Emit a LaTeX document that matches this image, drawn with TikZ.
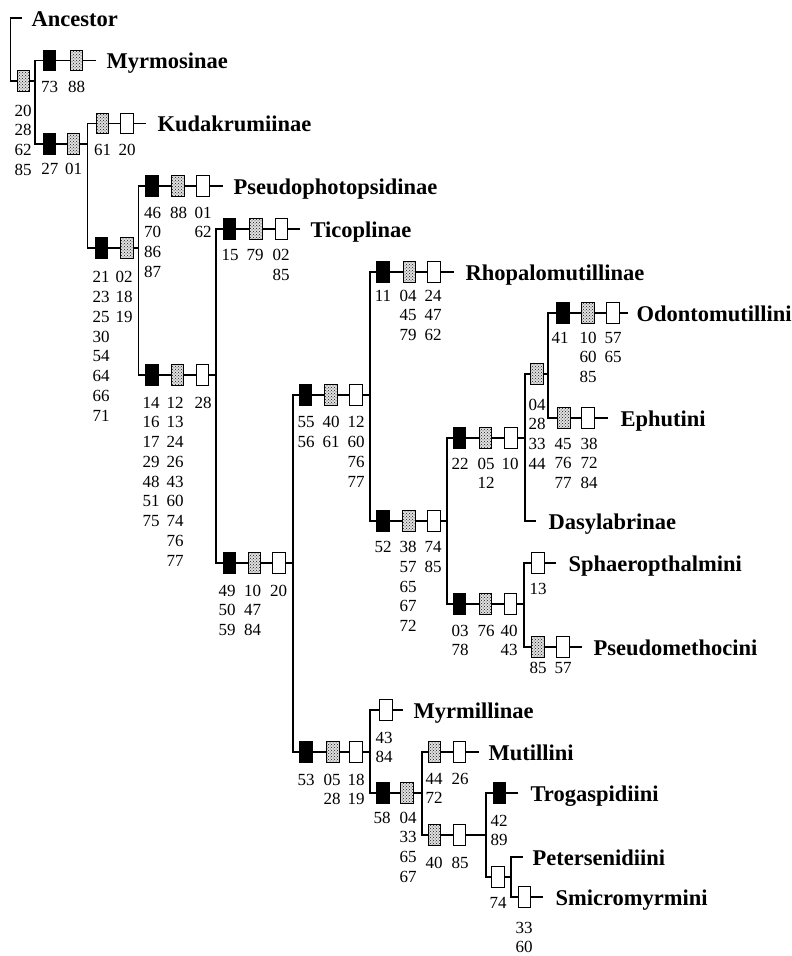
\documentclass[tikz,border=0pt]{standalone}
\usepackage{fontspec}
\setmainfont{Liberation Serif}
\usetikzlibrary{patterns}

\begin{document}
\begin{tikzpicture}[x=1pt, y=-1pt, line width=1.2pt, line cap=rect,
  box/.style={draw, line width=0.9pt, minimum width=12.5pt, minimum height=20.5pt, inner sep=0pt},
  apo/.style={box, fill=black},
  hom/.style={box, preaction={fill=black!12}, pattern=crosshatch dots, pattern color=black!90},
  rev/.style={box, fill=white},
  taxon/.style={anchor=base west, inner sep=0pt, yshift=-8pt, font=\fontsize{22.5}{27}\selectfont\bfseries},
  chars/.style={anchor=north, inner sep=0pt, yshift=5.7pt, align=center, font=\fontsize{17}{19.75}\selectfont}]
  \useasboundingbox (0,0) rectangle (792,956);

  % ancestor and root
  \coordinate (anc-e) at (21,18);
  \coordinate (anc-c) at (10.5,18);
  \coordinate (anc-s) at (10.5,81);
  \node[hom] (anc-1) at (23.3,81) {};
  \coordinate (r0) at (35,81);
  \node[taxon] (anc) at (31,18) {Ancestor};
  \node[chars] (anc-n) at (23,110) {20\\28\\62\\85};
  \draw (anc-e) -- (anc-c) -- (anc-s) -- (anc-1) -- (r0);

  % Myrmosinae
  \coordinate (myr-s) at (35,60.5);
  \node[apo] (myr-1) at (49.5,60.5) {};
  \node[hom] (myr-2) at (76.5,60.5) {};
  \coordinate (myr-e) at (95,60.5);
  \node[taxon] (myr) at (106,60.5) {Myrmosinae};
  \node[chars] (myr-a) at (49.5,86) {73};
  \node[chars] (myr-b) at (76.5,86) {88};
  \draw (myr-s) -- (myr-1) -- (myr-2) -- (myr-e);

  \coordinate (n1-s) at (35,144);
  \node[apo] (n1-1) at (49.5,144) {};
  \node[hom] (n1-2) at (73.3,144) {};
  \coordinate (n1-e) at (87.5,144);
  \node[chars] (n1-a) at (50,168) {27};
  \node[chars] (n1-b) at (73.5,168) {01};
  \draw (n1-s) -- (n1-1) -- (n1-2) -- (n1-e);

  % Kudakrumiinae
  \coordinate (kud-s) at (87.5,123.5);
  \node[hom] (kud-1) at (102.5,123.5) {};
  \node[rev] (kud-2) at (126.7,123.5) {};
  \coordinate (kud-e) at (145.7,123.5);
  \node[taxon] (kud) at (157,123.5) {Kudakrumiinae};
  \node[chars] (kud-a) at (102.5,149) {61};
  \node[chars] (kud-b) at (127,149) {20};
  \draw (kud-s) -- (kud-1) -- (kud-2) -- (kud-e);

  \coordinate (n2-s) at (87.5,248);
  \node[apo] (n2-1) at (101.5,248) {};
  \node[hom] (n2-2) at (126.7,248) {};
  \coordinate (n2-e) at (138.5,248);
  \node[chars] (n2-a) at (101,276.7) {21\\23\\25\\30\\54\\64\\66\\71};
  \node[chars] (n2-b) at (124,276.7) {02\\18\\19};
  \draw (n2-s) -- (n2-1) -- (n2-2) -- (n2-e);

  % Pseudophotopsidinae
  \coordinate (pse-s) at (138.5,186);
  \node[apo] (pse-1) at (152,186) {};
  \node[hom] (pse-2) at (178,186) {};
  \node[rev] (pse-3) at (203,186) {};
  \coordinate (pse-e) at (222,186);
  \node[taxon] (pse) at (233,186) {Pseudophotopsidinae};
  \node[chars] (pse-a) at (152.5,212) {46\\70\\86\\87};
  \node[chars] (pse-b) at (178.5,212) {88};
  \node[chars] (pse-c) at (203,212) {01\\62};
  \draw (pse-s) -- (pse-1) -- (pse-2) -- (pse-3) -- (pse-e);

  \coordinate (n3-s) at (138.5,375);
  \node[apo] (n3-1) at (152,375) {};
  \node[hom] (n3-2) at (177.5,375) {};
  \node[rev] (n3-3) at (202.5,375) {};
  \coordinate (n3-e) at (216,375);
  \node[chars] (n3-a) at (151,402) {14\\16\\17\\29\\48\\51\\75};
  \node[chars] (n3-b) at (175,402) {12\\13\\24\\26\\43\\60\\74\\76\\77};
  \node[chars] (n3-c) at (203,402) {28};
  \draw (n3-s) -- (n3-1) -- (n3-2) -- (n3-3) -- (n3-e);

  % Ticoplinae
  \coordinate (tic-s) at (216,229);
  \node[apo] (tic-1) at (229.5,229) {};
  \node[hom] (tic-2) at (256,229) {};
  \node[rev] (tic-3) at (281.5,229) {};
  \coordinate (tic-e) at (299,229);
  \node[taxon] (tic) at (310,229) {Ticoplinae};
  \node[chars] (tic-a) at (230,254.3) {15};
  \node[chars] (tic-b) at (255,254.3) {79};
  \node[chars] (tic-c) at (281,254.3) {02\\85};
  \draw (tic-s) -- (tic-1) -- (tic-2) -- (tic-3) -- (tic-e);

  \coordinate (n4-s) at (216,563);
  \node[apo] (n4-1) at (229.5,563) {};
  \node[hom] (n4-2) at (254.5,563) {};
  \node[rev] (n4-3) at (279,563) {};
  \coordinate (n4-e) at (293,563);
  \node[chars] (n4-a) at (227,590) {49\\50\\59};
  \node[chars] (n4-b) at (252.5,590) {10\\47\\84};
  \node[chars] (n4-c) at (278.5,590) {20};
  \draw (n4-s) -- (n4-1) -- (n4-2) -- (n4-3) -- (n4-e);

  \coordinate (n5-s) at (293,395);
  \node[apo] (n5-1) at (305.5,395) {};
  \node[hom] (n5-2) at (331,395) {};
  \node[rev] (n5-3) at (356,395) {};
  \coordinate (n5-e) at (370,395);
  \node[chars] (n5-a) at (306,421.7) {55\\56};
  \node[chars] (n5-b) at (331,421.7) {40\\61};
  \node[chars] (n5-c) at (356,421.7) {12\\60\\76\\77};
  \draw (n5-s) -- (n5-1) -- (n5-2) -- (n5-3) -- (n5-e);

  \coordinate (n6-s) at (293,752);
  \node[apo] (n6-1) at (306,752) {};
  \node[hom] (n6-2) at (333,752) {};
  \node[rev] (n6-3) at (356,752) {};
  \coordinate (n6-e) at (370,752);
  \node[chars] (n6-a) at (306,779) {53};
  \node[chars] (n6-b) at (332,779) {05\\28};
  \node[chars] (n6-c) at (356,779) {18\\19};
  \draw (n6-s) -- (n6-1) -- (n6-2) -- (n6-3) -- (n6-e);

  % Rhopalomutillinae
  \coordinate (rho-s) at (370,272);
  \node[apo] (rho-1) at (383,272) {};
  \node[hom] (rho-2) at (409.5,272) {};
  \node[rev] (rho-3) at (434,272) {};
  \coordinate (rho-e) at (453,272);
  \node[taxon] (rho) at (465,272) {Rhopalomutillinae};
  \node[chars] (rho-a) at (383,295) {11};
  \node[chars] (rho-b) at (408,295) {04\\45\\79};
  \node[chars] (rho-c) at (433,295) {24\\47\\62};
  \draw (rho-s) -- (rho-1) -- (rho-2) -- (rho-3) -- (rho-e);

  \coordinate (n7-s) at (370,521);
  \node[apo] (n7-1) at (383,521) {};
  \node[hom] (n7-2) at (409,521) {};
  \node[rev] (n7-3) at (434,521) {};
  \coordinate (n7-e) at (447,521);
  \node[chars] (n7-a) at (383,546.5) {52};
  \node[chars] (n7-b) at (408,546.5) {38\\57\\65\\67\\72};
  \node[chars] (n7-c) at (433,546.5) {74\\85};
  \draw (n7-s) -- (n7-1) -- (n7-2) -- (n7-3) -- (n7-e);

  \coordinate (n8-s) at (447,438);
  \node[apo] (n8-1) at (459.5,438) {};
  \node[hom] (n8-2) at (485.5,438) {};
  \node[rev] (n8-3) at (511,438) {};
  \coordinate (n8-e) at (525,438);
  \node[chars] (n8-a) at (460,463) {22};
  \node[chars] (n8-b) at (486,463) {05\\12};
  \node[chars] (n8-c) at (510,463) {10};
  \draw (n8-s) -- (n8-1) -- (n8-2) -- (n8-3) -- (n8-e);

  \coordinate (n9-s) at (447,604);
  \node[apo] (n9-1) at (459.5,604) {};
  \node[hom] (n9-2) at (485.5,604) {};
  \node[rev] (n9-3) at (510.5,604) {};
  \coordinate (n9-e) at (524,604);
  \node[chars] (n9-a) at (460,630) {03\\78};
  \node[chars] (n9-b) at (486,630) {76};
  \node[chars] (n9-c) at (509,630) {40\\43};
  \draw (n9-s) -- (n9-1) -- (n9-2) -- (n9-3) -- (n9-e);

  \coordinate (n10-s) at (525,374);
  \node[hom] (n10-1) at (537,374) {};
  \coordinate (n10-e) at (548,374);
  \node[chars] (n10-a) at (537,404) {04\\28\\33\\44};
  \draw (n10-s) -- (n10-1) -- (n10-e);

  % Dasylabrinae
  \coordinate (das-s) at (525,521);
  \coordinate (das-e) at (535,521);
  \node[taxon] (das) at (548,521) {Dasylabrinae};
  \draw (das-s) -- (das-e);

  % Odontomutillini
  \coordinate (odo-s) at (548,313);
  \node[apo] (odo-1) at (563,313) {};
  \node[hom] (odo-2) at (588,313) {};
  \node[rev] (odo-3) at (613,313) {};
  \coordinate (odo-e) at (627,313);
  \node[taxon] (odo) at (636,313) {Odontomutillini};
  \node[chars] (odo-a) at (560,337) {41};
  \node[chars] (odo-b) at (588,337) {10\\60\\85};
  \node[chars] (odo-c) at (613,337) {57\\65};
  \draw (odo-s) -- (odo-1) -- (odo-2) -- (odo-3) -- (odo-e);

  % Ephutini
  \coordinate (eph-s) at (548,418);
  \node[hom] (eph-1) at (564,418) {};
  \node[rev] (eph-2) at (588,418) {};
  \coordinate (eph-e) at (607,418);
  \node[taxon] (eph) at (620,418) {Ephutini};
  \node[chars] (eph-a) at (563,443) {45\\76\\77};
  \node[chars] (eph-b) at (589,443) {38\\72\\84};
  \draw (eph-s) -- (eph-1) -- (eph-2) -- (eph-e);

  % Sphaeropthalmini
  \coordinate (sph-s) at (524,563);
  \node[rev] (sph-1) at (538,563) {};
  \coordinate (sph-e) at (555,563);
  \node[taxon] (sph) at (568,563) {Sphaeropthalmini};
  \node[chars] (sph-a) at (538,588) {13};
  \draw (sph-s) -- (sph-1) -- (sph-e);

  % Pseudomethocini
  \coordinate (psm-s) at (524,647);
  \node[hom] (psm-1) at (538,647) {};
  \node[rev] (psm-2) at (563,647) {};
  \coordinate (psm-e) at (581,647);
  \node[taxon] (psm) at (593,647) {Pseudomethocini};
  \node[chars] (psm-a) at (538,667) {85};
  \node[chars] (psm-b) at (563,667) {57};
  \draw (psm-s) -- (psm-1) -- (psm-2) -- (psm-e);

  % Myrmillinae
  \coordinate (myl-s) at (370,710);
  \node[rev] (myl-1) at (386,710) {};
  \coordinate (myl-e) at (402,710);
  \node[taxon] (myl) at (413,710) {Myrmillinae};
  \node[chars] (myl-a) at (384,737) {43\\84};
  \draw (myl-s) -- (myl-1) -- (myl-e);

  \coordinate (n11-s) at (370,793);
  \node[apo] (n11-1) at (383,793) {};
  \node[hom] (n11-2) at (407,793) {};
  \coordinate (n11-e) at (422,793);
  \node[chars] (n11-a) at (382,817) {58};
  \node[chars] (n11-b) at (408,817) {04\\33\\65\\67};
  \draw (n11-s) -- (n11-1) -- (n11-2) -- (n11-e);

  % Mutillini
  \coordinate (mut-s) at (422,752);
  \node[hom] (mut-1) at (434.5,752) {};
  \node[rev] (mut-2) at (459.5,752) {};
  \coordinate (mut-e) at (478,752);
  \node[taxon] (mut) at (488,752) {Mutillini};
  \node[chars] (mut-a) at (434,778) {44\\72};
  \node[chars] (mut-b) at (460,778) {26};
  \draw (mut-s) -- (mut-1) -- (mut-2) -- (mut-e);

  \coordinate (n12-s) at (422,835);
  \node[hom] (n12-1) at (434.5,835) {};
  \node[rev] (n12-2) at (459.5,835) {};
  \coordinate (n12-e) at (486,835);
  \node[chars] (n12-a) at (434,862) {40};
  \node[chars] (n12-b) at (460,862) {85};
  \draw (n12-s) -- (n12-1) -- (n12-2) -- (n12-e);

  % Trogaspidiini
  \coordinate (tro-s) at (486,793);
  \node[apo] (tro-1) at (499.5,793) {};
  \coordinate (tro-e) at (517,793);
  \node[taxon] (tro) at (530,793) {Trogaspidiini};
  \node[chars] (tro-a) at (499,820) {42\\89};
  \draw (tro-s) -- (tro-1) -- (tro-e);

  \coordinate (n13-s) at (486,877);
  \node[rev] (n13-1) at (498,877) {};
  \coordinate (n13-e) at (511,877);
  \node[chars] (n13-a) at (498,902) {74};
  \draw (n13-s) -- (n13-1) -- (n13-e);

  % Petersenidiini and Smicromyrmini
  \coordinate (pet-s) at (511,857);
  \coordinate (pet-e) at (522,857);
  \node[taxon] (pet) at (532,857) {Petersenidiini};
  \draw (pet-s) -- (pet-e);

  \coordinate (smi-s) at (511,897);
  \node[rev] (smi-1) at (524.5,897) {};
  \coordinate (smi-e) at (542,897);
  \node[taxon] (smi) at (555,897) {Smicromyrmini};
  \node[chars] (smi-a) at (524,927) {33\\60};
  \draw (smi-s) -- (smi-1) -- (smi-e);

  % splits
  \foreach \a/\b in {myr/n1, kud/n2, pse/n3, tic/n4, n5/n6, rho/n7, n8/n9,
                     n10/das, odo/eph, sph/psm, myl/n11, mut/n12, tro/n13, pet/smi}
    \draw (\a-s) -- (\b-s);
\end{tikzpicture}
\end{document}
